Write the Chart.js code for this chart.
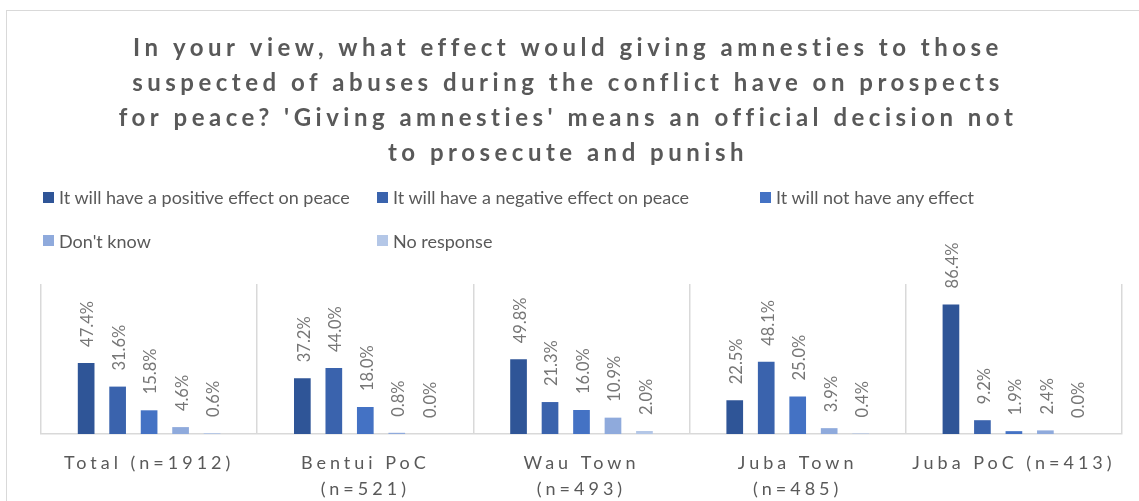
<!DOCTYPE html>
<html><head><meta charset="utf-8">
<script src="https://cdn.jsdelivr.net/npm/chart.js@4/dist/chart.umd.min.js"></script>
<style>
html,body{margin:0;padding:0;background:#fff;overflow:hidden;}
#wrap{position:relative;width:1139px;height:501px;overflow:hidden;}
#frame{position:absolute;left:6px;top:10px;width:1200px;height:600px;border:1px solid #d9d9d9;box-sizing:border-box;}
#c{position:absolute;left:0;top:0;}
#legend{position:absolute;left:0;top:0;width:1139px;height:0;font-family:Lato,sans-serif;font-size:18px;color:#595959;}
.li{position:absolute;display:flex;align-items:center;white-space:nowrap;transform:translateY(-50%);}
.sw{width:11px;height:11px;margin-right:5px;flex:none;}
</style></head>
<body><div id="wrap"><div id="frame"></div><canvas id="c" width="1139" height="501"></canvas><div id="legend"></div></div>
<script>
const categories = [['Total (n=1912)'], ['Bentui PoC', '(n=521)'], ['Wau Town', '(n=493)'], ['Juba Town', '(n=485)'], ['Juba PoC (n=413)']];
const positiveEffect = [47.4, 37.2, 49.8, 22.5, 86.4];
const negativeEffect = [31.6, 44.0, 21.3, 48.1, 9.2];
const noEffect = [15.8, 18.0, 16.0, 25.0, 1.9];
const dontKnow = [4.6, 0.8, 10.9, 3.9, 2.4];
const noResponse = [0.6, 0.0, 2.0, 0.4, 0.0];
const seriesNames = ['It will have a positive effect on peace', 'It will have a negative effect on peace', 'It will not have any effect', "Don't know", 'No response'];
const seriesColors = ['#2F5597', '#3A63AD', '#4472C4', '#8FAADC', '#B4C7E7'];
const titleLines = ['In your view, what effect would giving amnesties to those', 'suspected of abuses during the conflict have on prospects', "for peace? 'Giving amnesties' means an official decision not", 'to prosecute and punish'];

const seriesValues = [positiveEffect, negativeEffect, noEffect, dontKnow, noResponse];

const spacingPlugin = {
  id: 'spacingPlugin',
  afterLayout(chart) {
    const t = chart.titleBlock;
    if (t && !t._sp) {
      const o = t.draw;
      t.draw = function (a) { const c = this.ctx; c.save(); c.letterSpacing = '4.5px'; o.call(this, a); c.restore(); };
      t._sp = true;
    }
    const x = chart.scales.x;
    if (x && !x._sp) {
      const o = x.drawLabels;
      x.drawLabels = function (a) { const c = this.ctx; c.save(); c.letterSpacing = '4px'; o.call(this, a); c.restore(); };
      x._sp = true;
    }
  }
};

const valueLabels = {
  id: 'valueLabels',
  afterDatasetsDraw(chart) {
    const ctx = chart.ctx;
    ctx.save();
    ctx.font = '16.5px Lato';
    ctx.fillStyle = '#767676';
    ctx.textAlign = 'left';
    ctx.textBaseline = 'middle';
    chart.data.datasets.forEach((ds, i) => {
      const meta = chart.getDatasetMeta(i);
      meta.data.forEach((bar, j) => {
        ctx.save();
        ctx.translate(bar.x + 2, bar.y - 16);
        ctx.rotate(-Math.PI / 2);
        ctx.fillText(ds.data[j].toFixed(1) + '%', 0, 0);
        ctx.restore();
      });
    });
    ctx.restore();
  }
};

const chart = new Chart(document.getElementById('c'), {
  type: 'bar',
  data: {
    labels: categories,
    datasets: seriesValues.map((v, i) => ({
      label: seriesNames[i],
      data: v,
      backgroundColor: seriesColors[i],
      borderWidth: 0,
      categoryPercentage: 0.728,
      barPercentage: 0.53
    }))
  },
  options: {
    responsive: false,
    animation: false,
    devicePixelRatio: 1,
    layout: { padding: { left: 14, right: 17, top: 0, bottom: -17 } },
    plugins: {
      legend: { display: false },
      tooltip: { enabled: false },
      title: {
        display: true,
        text: titleLines,
        color: '#595959',
        font: { family: 'Lato', size: 24, weight: 'bold', lineHeight: 35 / 24 },
        padding: { top: 30.5, bottom: 113.5 }
      }
    },
    scales: {
      x: {
        grid: { display: true, offset: true, color: '#d9d9d9', lineWidth: 1.5, drawTicks: false },
        border: { display: true, color: '#d9d9d9', width: 1.5 },
        ticks: { color: '#595959', font: { family: 'Lato', size: 18, lineHeight: 26 / 18 }, padding: 16, maxRotation: 0, autoSkip: false }
      },
      y: {
        display: true, min: 0, max: 100,
        ticks: { display: false },
        grid: { display: false, drawTicks: false },
        border: { display: false },
        afterFit(scale) { scale.width = 27; }
      }
    }
  },
  plugins: [spacingPlugin, valueLabels]
});

// Legend (HTML, laid out like the reference)
const legendSpots = [[43, 197], [377, 197], [760, 197], [43, 240.5], [377, 240.5]];
const legendEl = document.getElementById('legend');
seriesNames.forEach((name, i) => {
  const d = document.createElement('div');
  d.className = 'li';
  d.style.left = legendSpots[i][0] + 'px';
  d.style.top = legendSpots[i][1] + 'px';
  const sw = document.createElement('span');
  sw.className = 'sw';
  sw.style.background = seriesColors[i];
  const tx = document.createElement('span');
  tx.textContent = name;
  d.appendChild(sw); d.appendChild(tx);
  legendEl.appendChild(d);
});
</script>
</body></html>
